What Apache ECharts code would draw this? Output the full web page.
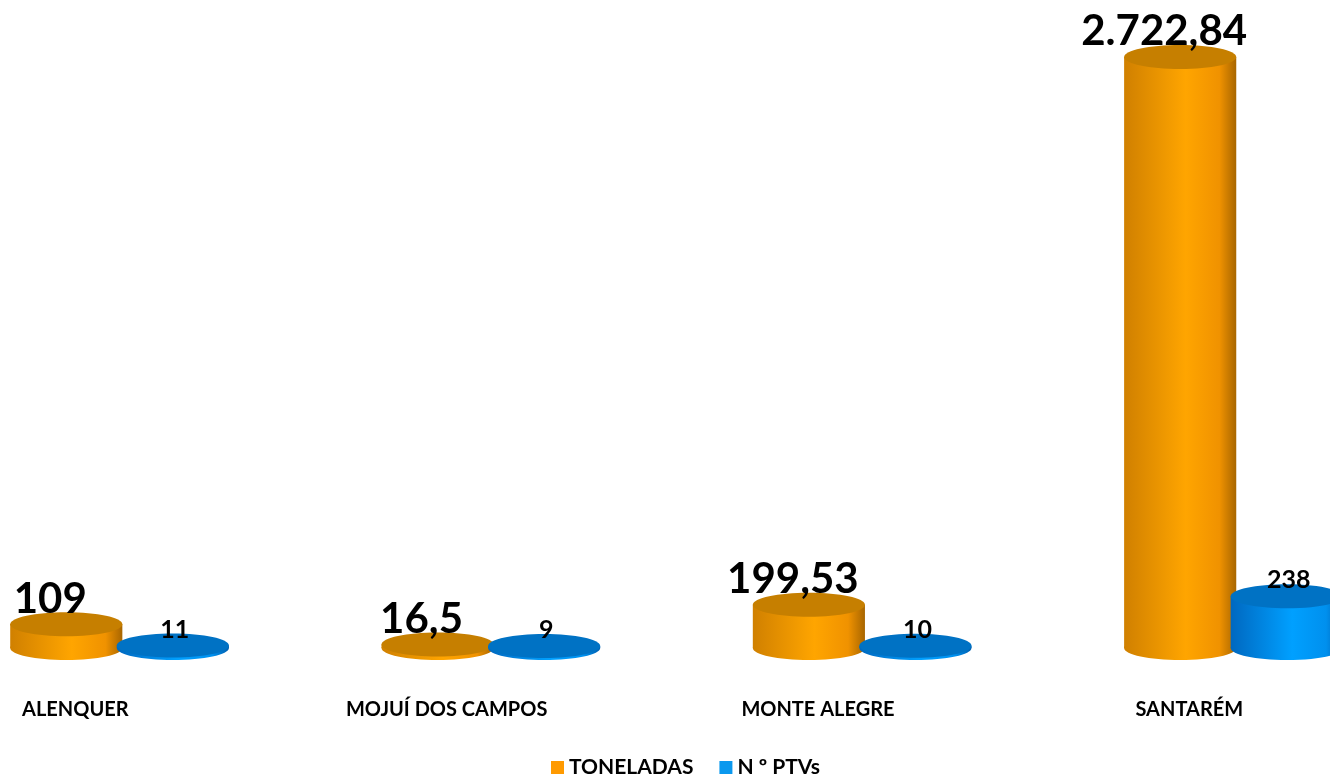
<!DOCTYPE html>
<html>
<head>
    <meta charset="utf-8">
    <title>Toneladas e PTVs</title>
    <script src="https://cdn.jsdelivr.net/npm/echarts@6/dist/echarts.min.js"></script>
    <style>
        html, body {margin: 0; padding: 0; background: #fff;}
        #container {width: 1330px; height: 780px;}
    </style>
</head>
<body>
<div id="container"></div>
<script type="text/javascript">
    // dados
    var municipios = ['ALENQUER', 'MOJUÍ DOS CAMPOS', 'MONTE ALEGRE', 'SANTARÉM'];
    var toneladas = [109, 16.5, 199.53, 2722.84];
    var ptvs = [11, 9, 10, 238];

    var fonte = 'Lato, "Open Sans", sans-serif';

    // formato pt-BR: 2722.84 -> 2.722,84
    function fmt(v) {
        var partes = String(v).split('.');
        var inteiro = partes[0].replace(/\B(?=(\d{3})+(?!\d))/g, '.');
        return partes.length > 1 ? inteiro + ',' + partes[1] : inteiro;
    }

    function grad(c) {
        return new echarts.graphic.LinearGradient(0, 0, 1, 0, [
            {offset: 0, color: c[0]},
            {offset: 0.55, color: c[1]},
            {offset: 0.85, color: c[2]},
            {offset: 1, color: c[3]}
        ]);
    }

    // cilindro desenhado pelas escalas do eixo
    function cilindro(cores, tampa, desloc, rotulo, comNome) {
        return function (params, api) {
            var idx = api.value(0);
            var val = api.value(1);
            var topo = api.coord([idx, val]);
            var base = api.coord([idx, 0]);
            var banda = api.coord([idx + 1, 0])[0] - base[0];
            var cx = topo[0] + banda * desloc;
            var rx = banda * 0.151;
            var ry = 12;
            var filhos = [
                {type: 'ellipse', shape: {cx: cx, cy: base[1], rx: rx, ry: ry},
                    style: {fill: grad(cores)}},
                {type: 'rect', shape: {x: cx - rx, y: topo[1], width: rx * 2, height: base[1] - topo[1]},
                    style: {fill: grad(cores)}},
                {type: 'ellipse', shape: {cx: cx, cy: topo[1], rx: rx, ry: ry},
                    style: {fill: tampa}},
                {type: 'text', x: cx + rotulo.dx, y: topo[1] - rotulo.dy,
                    style: {text: fmt(val), fill: '#000', font: 'bold ' + rotulo.size + 'px ' + fonte,
                        align: 'center', verticalAlign: 'middle'}}
            ];
            if (comNome) {
                filhos.push({type: 'text', x: base[0] - banda * 0.119, y: base[1] + 62,
                    style: {text: municipios[idx], fill: '#000', font: 'bold 20px ' + fonte,
                        align: 'center', verticalAlign: 'middle'}});
            }
            return {type: 'group', children: filhos};
        };
    }

    var dadosTon = toneladas.map(function (v, i) { return [i, v]; });
    var dadosPtv = ptvs.map(function (v, i) { return [i, v]; });

    var mychart = echarts.init(document.getElementById('container'));

    var options = {
        animation: false,
        grid: {left: 0, right: 0, top: 0, bottom: 132},
        legend: {
            bottom: -3,
            left: 546,
            icon: 'rect',
            itemWidth: 13,
            itemHeight: 13,
            itemGap: 26,
            textStyle: {color: '#000', fontWeight: 'bold', fontSize: 21, fontFamily: fonte},
            data: [
                {name: 'TONELADAS', itemStyle: {color: '#FF9A00'}},
                {name: 'N º PTVs', itemStyle: {color: '#0A98EE'}}
            ]
        },
        // uma unidade = um município (371 px)
        xAxis: {type: 'value', min: -0.322, max: 3.26, show: false},
        yAxis: {type: 'value', min: 0, max: 2985, show: false},
        series: [
            {
                name: 'TONELADAS',
                type: 'custom',
                itemStyle: {color: '#FF9A00'},
                encode: {x: 0, y: 1},
                data: dadosTon,
                renderItem: cilindro(['#D08000', '#FFA500', '#F09200', '#A86600'], '#C67F00', -0.1435, {dx: -16, dy: 25, size: 42}, true)
            },
            {
                name: 'N º PTVs',
                type: 'custom',
                itemStyle: {color: '#0A98EE'},
                encode: {x: 0, y: 1},
                data: dadosPtv,
                renderItem: cilindro(['#0068C0', '#00A0FF', '#0090EE', '#0060B0'], '#0072C4', 0.1435, {dx: 2, dy: 16, size: 25}, false)
            }
        ]
    };

    mychart.setOption(options);
</script>
</body>
</html>
